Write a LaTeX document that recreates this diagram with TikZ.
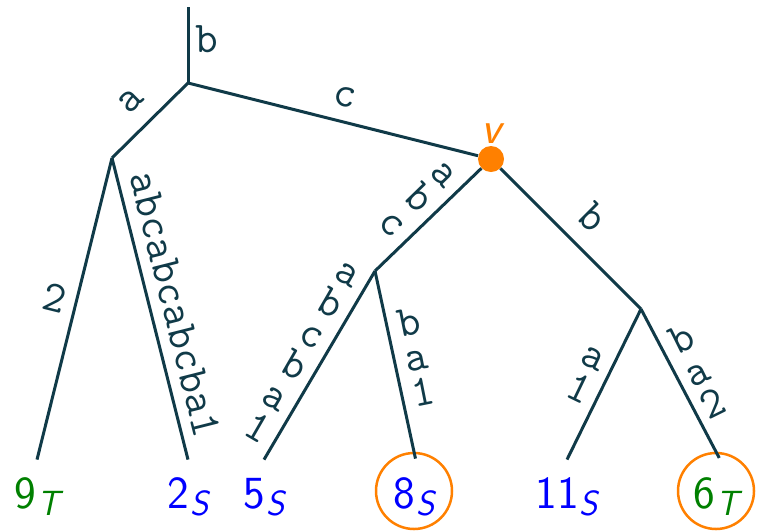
\documentclass[tikz,border=0pt]{standalone}
\usepackage{fontspec}
\definecolor{edgec}{RGB}{16,58,72}
\definecolor{orng}{RGB}{255,128,0}
\definecolor{grn}{RGB}{0,128,0}
\definecolor{blu}{RGB}{0,0,255}
\newcommand{\leafsub}[2]{#1\kern0.5pt\raisebox{-3.5pt}{\fontsize{17.5}{18}\selectfont\itshape #2}}
\begin{document}
\begin{tikzpicture}[x=0.5pt,y=-0.5pt,
  edge/.style={draw=edgec, line width=1.5pt},
  lab/.style={text=edgec, font=\fontsize{22}{18}\selectfont\ttfamily, inner sep=0pt},
  stk/.style={lab, align=center, inner xsep=4.5pt},
  slp/.style={lab, sloped, anchor=south, inner ysep=7.5pt},
  leaf/.style={font=\fontsize{23}{27}\selectfont\sffamily, text height=17pt, text depth=0pt, inner xsep=0pt, inner ysep=7pt},
  leafc/.style={circle, draw=orng, line width=1.25pt, minimum size=38pt, inner sep=0pt, font=\fontsize{23}{27}\selectfont\sffamily, text height=17pt, text depth=0pt},
  vdot/.style={circle, fill=orng, minimum size=13pt, inner sep=0pt},
  vlab/.style={text=orng, font=\fontsize{23}{27}\selectfont\sffamily\itshape, inner sep=0pt}
]
\useasboundingbox (0,0) rectangle (759,531);
\coordinate (T0) at (188,7);
\coordinate (R) at (188,83);
\coordinate (L) at (112,158);
\node[vdot, label={[vlab, label distance=1pt]90:v}] (v) at (491,159) {};
\coordinate (M) at (375,271);
\coordinate (N) at (641,309);
\node[leaf, text=grn] (l9) at (37,491) {\leafsub{9}{T}};
\node[leaf, text=blu] (l2) at (188,491) {\leafsub{2}{S}};
\node[leaf, text=blu] (l5) at (264,491) {\leafsub{5}{S}};
\node[leafc, text=blu] (l8) at (414,491) {\leafsub{8}{S}};
\node[leaf, text=blu] (l11) at (567,491) {\leafsub{11}{S}};
\node[leafc, text=grn] (l6) at (716,491) {\leafsub{6}{T}};

\draw[edge] (T0) -- node[lab, anchor=west, inner xsep=3pt, pos=0.43] {b} (R);
\draw[edge] (R) -- node[slp, inner ysep=8pt] {a} (L);
\draw[edge] (R) -- node[slp, inner ysep=6.5pt, pos=0.52] {c} (v);
\draw[edge] (L) -- node[stk, rotate=-13.9, anchor=east, pos=0.48] {2} (l9.north);
\draw[edge] (L) -- node[slp, inner ysep=5.25pt, pos=0.505] {abcabcabcba1} (l2.north);
\draw[edge] (v) -- node[stk, rotate=-45.8, anchor=east, pos=0.46] {a\\b\\c} (M);
\draw[edge] (v) -- node[slp, inner ysep=7.8pt] {b} (N);
\draw[edge] (M) -- node[stk, rotate=-30.1, anchor=east, pos=0.49] {a\\b\\c\\b\\a\\1} (l5.north);
\draw[edge, shorten >=-3.5pt] (M) -- node[stk, rotate=11.3, anchor=west] {b\\a\\1} (l8.north);
\draw[edge] (N) -- node[stk, rotate=-25.7, anchor=east, inner xsep=4pt] {a\\1} (l11.north);
\draw[edge, shorten >=-3.5pt] (N) -- node[stk, rotate=26.3, anchor=west, inner xsep=4pt] {b\\a\\2} (l6.north);
\end{tikzpicture}
\end{document}
